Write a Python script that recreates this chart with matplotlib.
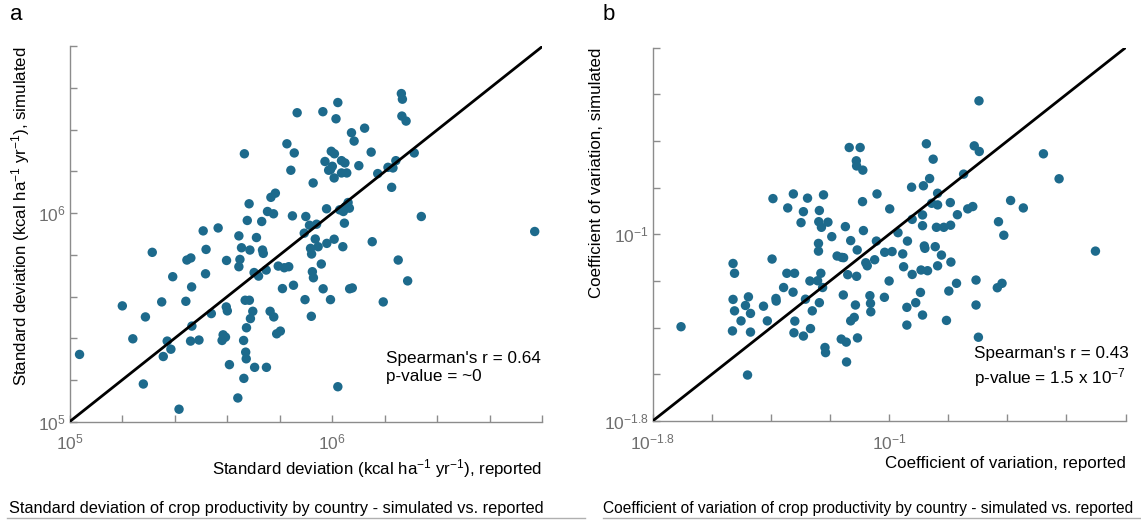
import numpy as np
import matplotlib
matplotlib.use("Agg")
import matplotlib.pyplot as plt
from matplotlib.ticker import FixedLocator, NullLocator
from matplotlib.lines import Line2D

plt.rcParams['font.family'] = ['Liberation Sans', 'DejaVu Sans']
plt.rcParams['mathtext.default'] = 'regular'

# panel a: standard deviation (log10 of kcal ha-1 yr-1)
sd_reported_exp = [
    5.037, 5.200, 5.240, 5.280, 5.288, 5.314, 5.350, 5.356, 5.371, 5.385,
    5.392, 5.416, 5.442, 5.446, 5.461, 5.464, 5.465, 5.460, 5.492, 5.508,
    5.517, 5.519, 5.539, 5.565, 5.580, 5.584, 5.593, 5.596, 5.600, 5.597,
    5.608, 5.640, 5.644, 5.644, 5.648, 5.654, 5.662, 5.663, 5.665, 5.668,
    5.670, 5.672, 5.673, 5.676, 5.683, 5.684, 5.686, 5.688, 5.697, 5.702,
    5.704, 5.711, 5.719, 5.731, 5.734, 5.737, 5.748, 5.749, 5.753, 5.763,
    5.766, 5.776, 5.777, 5.783, 5.788, 5.794, 5.802, 5.810, 5.817, 5.827,
    5.834, 5.842, 5.848, 5.852, 5.855, 5.866, 5.893, 5.896, 5.899, 5.913,
    5.917, 5.920, 5.921, 5.924, 5.927, 5.928, 5.935, 5.940, 5.946, 5.958,
    5.964, 5.965, 5.972, 5.978, 5.979, 5.993, 5.993, 5.996, 6.000, 6.007,
    6.007, 6.008, 6.014, 6.021, 6.021, 6.028, 6.035, 6.040, 6.046, 6.048,
    6.051, 6.055, 6.060, 6.066, 6.073, 6.076, 6.083, 6.101, 6.123, 6.148,
    6.152, 6.173, 6.194, 6.212, 6.226, 6.242, 6.251, 6.263, 6.267, 6.265,
    6.281, 6.287, 6.312, 6.339, 6.771, 5.986, 6.035, 6.231, 6.042, 6.065,
]
sd_simulated_exp = [
    5.322, 5.555, 5.397, 5.180, 5.502, 5.812, 5.574, 5.312, 5.386, 5.347,
    5.695, 5.059, 5.577, 5.775, 5.785, 5.646, 5.458, 5.386, 5.391, 5.915,
    5.709, 5.826, 5.518, 5.929, 5.389, 5.416, 5.405, 5.550, 5.531, 5.773,
    5.273, 5.113, 5.743, 5.891, 5.778, 5.834, 5.389, 5.207, 6.285, 5.582,
    5.333, 5.301, 5.450, 5.965, 6.045, 5.582, 5.823, 5.494, 5.529, 5.715,
    5.260, 5.883, 5.698, 5.960, 5.823, 5.807, 5.727, 5.260, 6.008, 5.529,
    6.076, 5.997, 5.502, 6.096, 5.421, 5.746, 5.434, 5.638, 5.738, 6.333,
    5.743, 6.206, 5.987, 5.654, 6.289, 6.482, 5.904, 5.585, 5.984, 5.942,
    5.831, 5.505, 5.804, 5.719, 6.145, 5.690, 5.876, 5.947, 5.839, 5.756,
    6.487, 5.637, 6.248, 6.021, 5.855, 5.585, 6.209, 6.297, 6.225, 5.875,
    6.169, 6.285, 6.453, 6.531, 5.167, 6.016, 6.252, 5.839, 5.952, 6.241,
    6.032, 6.193, 6.051, 5.637, 6.386, 5.641, 6.346, 6.228, 6.408, 6.293,
    5.863, 6.190, 5.574, 6.220, 6.124, 6.252, 5.775, 6.574, 6.547, 6.466,
    6.442, 5.675, 6.289, 5.984, 5.912, 6.206, 6.193, 6.217, 6.008, 6.024,
]

# panel b: coefficient of variation (log10)
cv_reported_exp = [
    -1.704, -1.528, -1.523, -1.528, -1.523, -1.530, -1.501, -1.486, -1.476, -1.469,
    -1.469, -1.479, -1.425, -1.412, -1.396, -1.393, -1.383, -1.382, -1.357, -1.346,
    -1.343, -1.324, -1.325, -1.320, -1.319, -1.322, -1.298, -1.290, -1.290, -1.283,
    -1.276, -1.268, -1.266, -1.260, -1.242, -1.239, -1.239, -1.236, -1.238, -1.236,
    -1.231, -1.229, -1.222, -1.217, -1.215, -1.207, -1.194, -1.176, -1.162, -1.155,
    -1.154, -1.148, -1.145, -1.144, -1.140, -1.135, -1.130, -1.130, -1.118, -1.114,
    -1.111, -1.110, -1.110, -1.108, -1.107, -1.098, -1.089, -1.090, -1.087, -1.079,
    -1.074, -1.065, -1.063, -1.062, -1.049, -1.043, -1.041, -1.016, -1.015, -1.000,
    -0.998, -0.990, -0.970, -0.954, -0.951, -0.940, -0.940, -0.938, -0.924, -0.922,
    -0.922, -0.910, -0.894, -0.887, -0.887, -0.884, -0.887, -0.881, -0.879, -0.874,
    -0.870, -0.863, -0.856, -0.851, -0.844, -0.840, -0.836, -0.836, -0.836, -0.823,
    -0.815, -0.806, -0.798, -0.793, -0.792, -0.791, -0.772, -0.769, -0.748, -0.734,
    -0.717, -0.712, -0.706, -0.706, -0.696, -0.695, -0.698, -0.634, -0.630, -0.618,
    -0.612, -0.589, -0.546, -0.478, -0.425, -0.302, -1.225, -1.160, -0.892,
]
cv_simulated_exp = [
    -1.396, -1.125, -1.167, -1.279, -1.328, -1.414, -1.371, -1.305, -1.268, -1.339,
    -1.419, -1.603, -1.308, -1.371, -1.106, -0.847, -1.275, -1.286, -1.228, -1.167,
    -0.887, -0.827, -1.248, -1.167, -1.372, -1.422, -0.950, -1.436, -0.903, -1.278,
    -0.845, -1.200, -1.404, -1.328, -1.199, -1.039, -1.072, -0.898, -0.946, -1.293,
    -1.167, -0.970, -0.831, -1.485, -1.507, -0.948, -1.010, -1.093, -1.449, -1.260,
    -1.100, -0.967, -1.462, -1.547, -1.173, -0.628, -1.027, -1.371, -1.356, -1.303,
    -0.685, -0.707, -1.180, -1.067, -1.444, -0.628, -0.725, -0.860, -0.984, -1.122,
    -1.135, -1.263, -1.296, -1.332, -1.109, -1.029, -0.827, -1.270, -1.077, -1.200,
    -0.891, -1.074, -0.993, -1.084, -1.139, -1.313, -1.389, -1.029, -0.798, -1.172,
    -0.936, -1.293, -1.249, -0.917, -0.963, -0.792, -1.346, -1.050, -1.060, -0.612,
    -1.156, -0.761, -0.867, -0.678, -1.053, -0.970, -0.824, -0.874, -1.135, -1.089,
    -0.970, -1.369, -1.243, -0.864, -0.961, -1.119, -1.210, -0.916, -0.742, -0.891,
    -0.881, -0.621, -1.196, -1.303, -0.428, -0.645, -1.441, -1.229, -0.946, -1.210,
    -1.004, -0.855, -0.887, -0.655, -0.762, -1.072, -1.228, -1.099, -1.153,
]

dot_color = '#1d6a8c'
grey = '#8c8c8c'
label_grey = '#6e6e6e'

fig = plt.figure(figsize=(11.41, 5.2), dpi=100)
ax_a = fig.add_axes([0.0612, 0.1894, 0.4141, 0.7212])
ax_b = fig.add_axes([0.5720, 0.1904, 0.4145, 0.7180])


def style_axes(ax, lo, hi, labelled):
    ax.set_xscale('log')
    ax.set_yscale('log')
    ax.set_xlim(10 ** lo, 10 ** hi)
    ax.set_ylim(10 ** lo, 10 ** hi)
    ticks = 10 ** np.linspace(lo, hi, int(round((hi - lo) / 0.2)) + 1)
    labels = [labelled.get(round(np.log10(t), 1), '') for t in ticks]
    for axis in (ax.xaxis, ax.yaxis):
        axis.set_major_locator(FixedLocator(ticks))
        axis.set_minor_locator(NullLocator())
        axis.set_ticklabels(labels)
    ax.tick_params(direction='in', length=5, width=1, color=grey,
                   labelcolor=label_grey, labelsize=12.5)
    ax.tick_params(axis='x', pad=8)
    ax.tick_params(axis='y', pad=3)
    for s in ('top', 'right'):
        ax.spines[s].set_visible(False)
    for s in ('left', 'bottom'):
        ax.spines[s].set_color(grey)
        ax.spines[s].set_linewidth(1)
    ax.plot([10 ** lo, 10 ** hi], [10 ** lo, 10 ** hi], color='black', lw=2,
            zorder=3, solid_capstyle='butt')


# panel a
ax_a.scatter(10 ** np.array(sd_reported_exp), 10 ** np.array(sd_simulated_exp),
             s=46, color=dot_color, edgecolors='none', zorder=2)
style_axes(ax_a, 5.0, 6.8, {5.0: '$10^5$', 6.0: '$10^6$'})
ax_a.set_xlabel('Standard deviation (kcal ha$^{-1}$ yr$^{-1}$), reported',
                fontsize=12.2, loc='right', labelpad=3)
ax_a.set_ylabel('Standard deviation (kcal ha$^{-1}$ yr$^{-1}$), simulated',
                fontsize=12.2, loc='top', labelpad=4)
ax_a.text(0.67, 0.143, "Spearman's r = 0.64\np-value = ~0", transform=ax_a.transAxes,
          fontsize=12.3, va='center', ha='left', linespacing=1.25)

# panel b
ax_b.scatter(10 ** np.array(cv_reported_exp), 10 ** np.array(cv_simulated_exp),
             s=46, color=dot_color, edgecolors='none', zorder=2)
style_axes(ax_b, -1.8, -0.2, {-1.8: '$10^{-1.8}$', -1.0: '$10^{-1}$'})
ax_b.set_xlabel('Coefficient of variation, reported',
                fontsize=12.2, loc='right', labelpad=3)
ax_b.set_ylabel('Coefficient of variation, simulated',
                fontsize=12.2, loc='top', labelpad=0)
ax_b.text(0.68, 0.143, "Spearman's r = 0.43\np-value = 1.5 x 10$^{-7}$",
          transform=ax_b.transAxes, fontsize=12.3, va='center', ha='left',
          linespacing=1.25)

# panel letters and captions
fig.text(10 / 1141, 1 - 15 / 520, 'a', fontsize=16, va='center', ha='left')
fig.text(603 / 1141, 1 - 15 / 520, 'b', fontsize=16, va='center', ha='left')
fig.text(9 / 1141, 1 - 508 / 520,
         'Standard deviation of crop productivity by country - simulated vs. reported',
         fontsize=11.8, va='center', ha='left')
fig.text(603 / 1141, 1 - 508 / 520,
         'Coefficient of variation of crop productivity by country - simulated vs. reported',
         fontsize=11.2, va='center', ha='left')
fig.add_artist(Line2D([7 / 1141, 585 / 1141], [1 - 518 / 520] * 2,
                      color='#b0b0b0', lw=1, transform=fig.transFigure))
fig.add_artist(Line2D([603 / 1141, 1.0], [1 - 518 / 520] * 2,
                      color='#b0b0b0', lw=1, transform=fig.transFigure))

fig.savefig('out.png', dpi=100)
